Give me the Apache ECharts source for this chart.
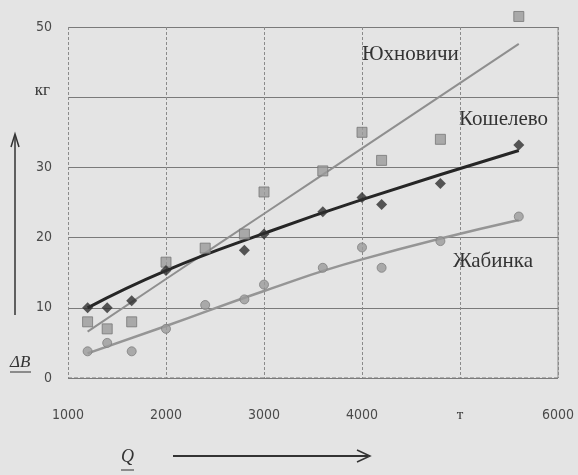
<!DOCTYPE html>
<html>
<head>
<meta charset="utf-8">
<script src="https://cdn.jsdelivr.net/npm/echarts@6/dist/echarts.min.js"></script>
<style>
  html, body { margin: 0; padding: 0; background: #e4e4e4; }
  #chart { width: 578px; height: 475px; }
</style>
</head>
<body>
<div id="chart"></div>
<script>
// Q, т
const qValues = [1200, 1400, 1650, 2000, 2400, 2800, 3000, 3600, 4000, 4200, 4800, 5600]

// ΔB, кг
const yukhnovichi = [8, 7, 8, 16.5, 18.5, 20.5, 26.5, 29.5, 35, 31, 34, 51.5]
const koshelevo = [10, 10, 11, 15.3, null, 18.2, 20.5, 23.7, 25.7, 24.7, 27.7, 33.2]
const zhabinka = [3.8, 5, 3.8, 7, 10.4, 11.2, 13.3, 15.7, 18.6, 15.7, 19.5, 23]

// trend lines
const trendQ = [1200, 2000, 3000, 4000, 5600]
const yukhTrend = [6.6, 14.1, 23.4, 32.7, 47.6]
const koshTrend = [10, 15.3, 20.6, 25.4, 32.4]
const zhabTrend = [3.5, 7.4, 12.4, 16.9, 22.5]

const xTicks = { 5000: 'т' }
const yTicks = { 40: 'кг' }

const seriesNames = ['Юхновичи', 'Кошелево', 'Жабинка']

const pairs = (xs, ys) => xs.map((x, i) => [x, ys[i]]).filter(p => p[1] != null)

const chart = echarts.init(document.getElementById('chart'))

const numFont = '"Liberation Sans Narrow", "DejaVu Sans Condensed", "Liberation Sans", sans-serif'
const serifFont = '"Liberation Serif", "DejaVu Serif", serif'

chart.setOption({
  backgroundColor: '#e4e4e4',
  animation: false,
  grid: { left: 68, right: 20, top: 27, bottom: 97 },
  xAxis: {
    type: 'value',
    min: 1000,
    max: 6000,
    interval: 1000,
    axisLine: { show: false },
    axisTick: { show: false },
    splitLine: { show: true, lineStyle: { color: '#8a8a8a', width: 1, type: [3, 2] } },
    axisLabel: {
      margin: 30,
      color: '#4a4a4a',
      fontSize: 14,
      fontFamily: numFont,
      formatter: v => xTicks[v] ? '{u|' + xTicks[v] + '}' : String(v),
      rich: { u: { fontFamily: serifFont, fontSize: 15, color: '#333', padding: [0, 0, 10, 0] } }
    }
  },
  yAxis: {
    type: 'value',
    min: 0,
    max: 50,
    interval: 10,
    axisLine: { show: false },
    axisTick: { show: false },
    splitLine: { show: true, lineStyle: { color: '#7a7a7a', width: 1 } },
    axisLabel: {
      margin: 16,
      color: '#4a4a4a',
      fontSize: 14,
      fontFamily: numFont,
      formatter: v => yTicks[v] ? '{u|' + yTicks[v] + '}' : String(v),
      rich: { u: { fontFamily: serifFont, fontSize: 17, color: '#333', padding: [0, 2, 14, 0] } }
    }
  },
  series: [
    {
      name: seriesNames[0] + ' тренд',
      type: 'line',
      data: pairs(trendQ, yukhTrend),
      smooth: true,
      symbol: 'none',
      lineStyle: { color: '#8f8f8f', width: 2 },
      z: 2
    },
    {
      name: seriesNames[1] + ' тренд',
      type: 'line',
      data: pairs(trendQ, koshTrend),
      smooth: true,
      symbol: 'none',
      lineStyle: { color: '#262626', width: 3 },
      z: 3
    },
    {
      name: seriesNames[2] + ' тренд',
      type: 'line',
      data: pairs(trendQ, zhabTrend),
      smooth: true,
      symbol: 'none',
      lineStyle: { color: '#959595', width: 2.5 },
      z: 2
    },
    {
      name: seriesNames[0],
      type: 'scatter',
      data: pairs(qValues, yukhnovichi),
      symbol: 'rect',
      symbolSize: 10,
      clip: false,
      itemStyle: { color: '#9a9a9a', borderColor: '#777', borderWidth: 1 },
      z: 4
    },
    {
      name: seriesNames[1],
      type: 'scatter',
      data: pairs(qValues, koshelevo),
      symbol: 'diamond',
      symbolSize: 11,
      itemStyle: { color: '#2e2e2e' },
      z: 5
    },
    {
      name: seriesNames[2],
      type: 'scatter',
      data: pairs(qValues, zhabinka),
      symbol: 'circle',
      symbolSize: 9,
      itemStyle: { color: '#9a9a9a', borderColor: '#808080', borderWidth: 1 },
      z: 4
    }
  ],
  graphic: [
    // right frame edge and dashed bottom line
    { type: 'line', shape: { x1: 558, y1: 27, x2: 558, y2: 378 }, style: { stroke: '#8a8a8a', lineWidth: 1 } },
    { type: 'line', shape: { x1: 68, y1: 378, x2: 558, y2: 378 }, style: { stroke: '#777', lineWidth: 1, lineDash: [4, 2] } },
    // series names
    { type: 'text', left: 362, top: 44, style: { text: seriesNames[0], font: '21px ' + serifFont, fill: '#333' } },
    { type: 'text', left: 459, top: 109, style: { text: seriesNames[1], font: '21px ' + serifFont, fill: '#333' } },
    { type: 'text', left: 453, top: 251, style: { text: seriesNames[2], font: '21px ' + serifFont, fill: '#333' } },
    // ΔB with arrow
    { type: 'line', shape: { x1: 15, y1: 315, x2: 15, y2: 136 }, style: { stroke: '#333', lineWidth: 1.5 } },
    { type: 'polyline', shape: { points: [[11, 147], [15, 134], [19, 147]] }, style: { stroke: '#333', lineWidth: 1.5, fill: null } },
    { type: 'text', left: 10, top: 354, style: { text: 'ΔB', font: 'italic 17px ' + serifFont, fill: '#333' } },
    { type: 'line', shape: { x1: 10, y1: 372, x2: 31, y2: 372 }, style: { stroke: '#333', lineWidth: 1 } },
    // Q with arrow
    { type: 'text', left: 121, top: 448, style: { text: 'Q', font: 'italic 18px ' + serifFont, fill: '#333' } },
    { type: 'line', shape: { x1: 121, y1: 470, x2: 134, y2: 470 }, style: { stroke: '#333', lineWidth: 1 } },
    { type: 'line', shape: { x1: 173, y1: 456, x2: 368, y2: 456 }, style: { stroke: '#333', lineWidth: 2 } },
    { type: 'polyline', shape: { points: [[357, 450], [370, 456], [357, 462]] }, style: { stroke: '#333', lineWidth: 1.5, fill: null } }
  ]
})
</script>
</body>
</html>
